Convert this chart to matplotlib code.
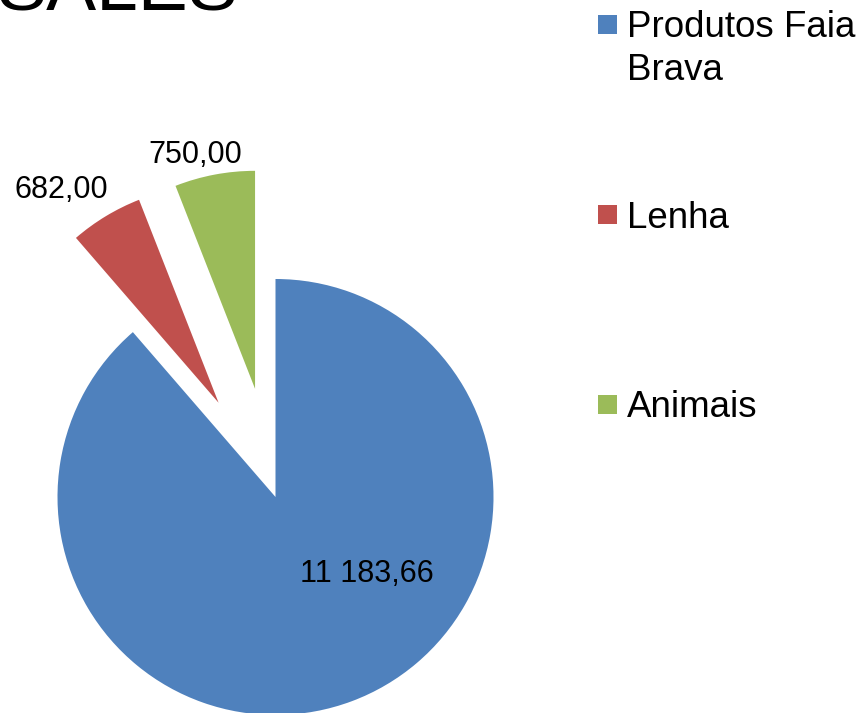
import matplotlib
matplotlib.use("Agg")
import matplotlib.pyplot as plt
from matplotlib.patches import Rectangle

plt.rcParams['font.family'] = ['Liberation Sans', 'DejaVu Sans']

# Sales by product line
categories = ["Produtos Faia\nBrava", "Lenha", "Animais"]
values = [11183.66, 682.00, 750.00]
value_labels = ["11 183,66", "682,00", "750,00"]
colors = ["#4F81BD", "#C0504D", "#9BBB59"]
explode = [0.0, 0.505, 0.505]

W, H = 862, 713
fig = plt.figure(figsize=(W / 100, H / 100), dpi=100)
ax = fig.add_axes([0, 0, 1, 1])

# pie centre and radius in pixels; axes limits map one data unit to the radius
cx, cy, r = 275.5, 497.0, 218.0
wedges, _ = ax.pie(values, colors=colors, startangle=90, counterclock=False,
                   explode=explode, radius=1.0, center=(0, 0),
                   wedgeprops=dict(linewidth=0))
ax.set_xlim(-cx / r, (W - cx) / r)
ax.set_ylim(-(H - cy) / r, cy / r)
ax.set_aspect('auto')
ax.axis('off')

# value labels (pixel positions converted to data units)
label_px = [(366.5, 574), (61, 190), (195, 155)]
for txt, (px, py) in zip(value_labels, label_px):
    ax.text((px - cx) / r, (cy - py) / r, txt, fontsize=22,
            ha='center', va='center', color='black')

# title, partly cut by the top edge
fig.text(-3 / W, 1 - 9 / H, "SALES", fontsize=54, ha='left', va='baseline',
         color='black')

# legend
box_x, box_size = 598, 19
text_x = 627
box_cy = [24, 214, 404]
baselines = [37, 228, 417]
line_gap = 43
for cat, col, bcy, base in zip(categories, colors, box_cy, baselines):
    fig.patches.append(Rectangle((box_x / W, 1 - (bcy + box_size / 2) / H),
                                 box_size / W, box_size / H,
                                 transform=fig.transFigure, facecolor=col,
                                 edgecolor='none'))
    for i, line in enumerate(cat.split("\n")):
        fig.text(text_x / W, 1 - (base + i * line_gap) / H, line,
                 fontsize=26.5, ha='left', va='baseline', color='black')

fig.savefig("out.png", dpi=100)
